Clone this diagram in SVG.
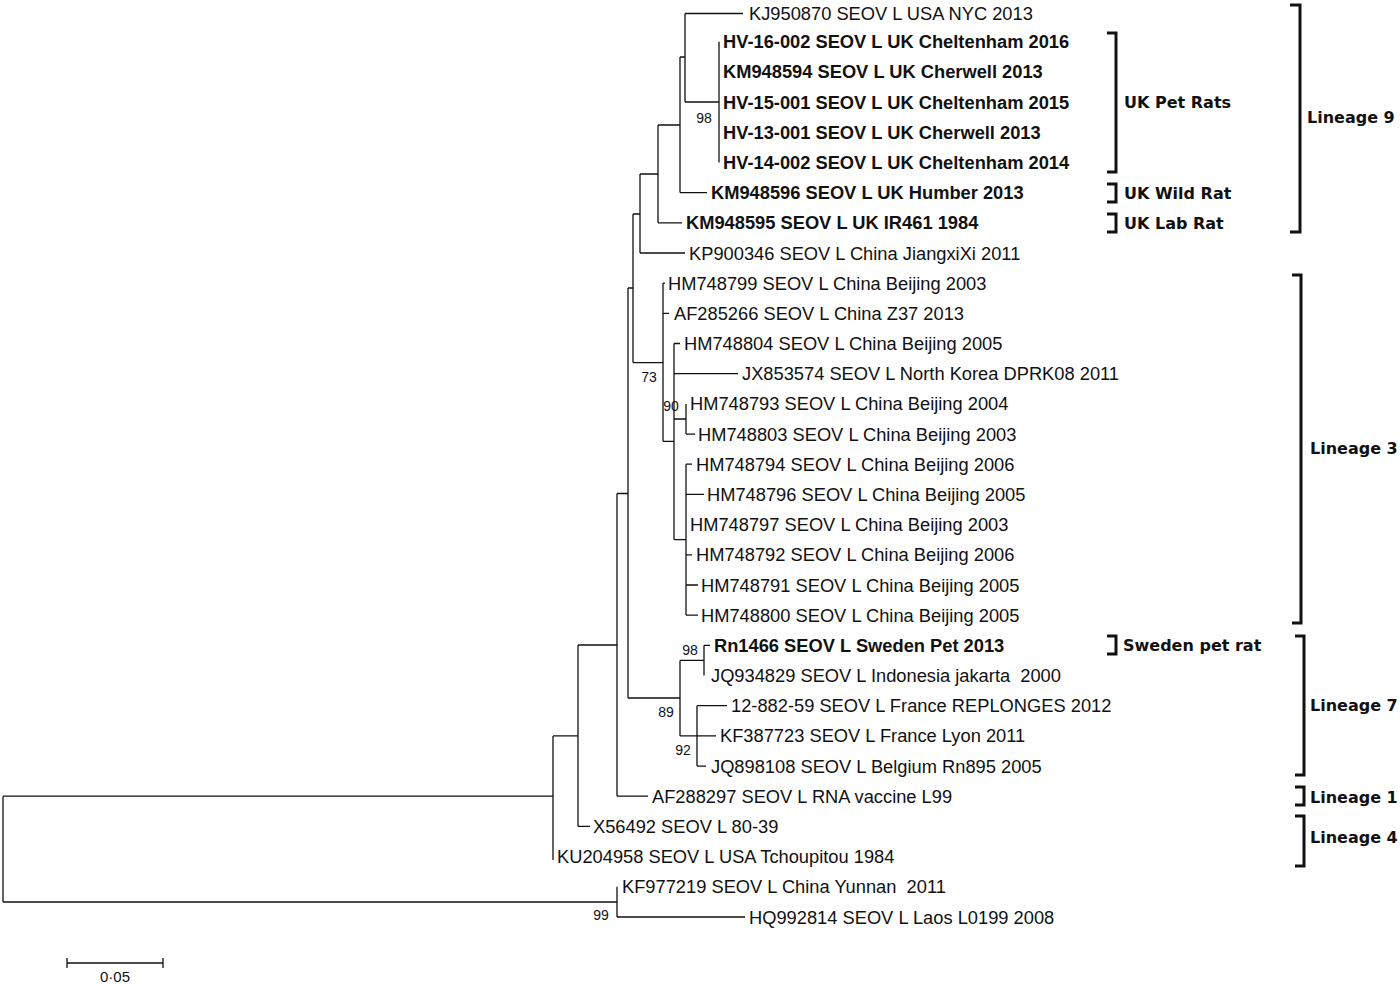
<svg xmlns="http://www.w3.org/2000/svg" width="1400" height="984" viewBox="0 0 1400 984">
<style>
.t{font-family:"Liberation Sans",Arial,sans-serif;font-size:18.3px;fill:#111}
.b{font-weight:bold}
.bs{font-family:"Liberation Sans",Arial,sans-serif;font-size:14px;fill:#111;text-anchor:middle}
.sc{font-size:15px}
.g{font-family:"DejaVu Sans",Verdana,sans-serif;font-weight:bold;font-size:16px;fill:#111}
.br{fill:none;stroke:#111;stroke-width:3}
.ln{fill:none;stroke:#111;stroke-width:1.3}
.pre{white-space:pre}
</style>
<rect width="1400" height="984" fill="#fff"/>
<g id="connectors" class="ln">
<path d="M3,796.2 V902 M3,796.2 H553 M3,902 H617"/>
<path d="M553,735.9 V860 M553,735.9 H578"/>
<path d="M578,645 V826.4 M578,826.4 H590 M578,645 H617"/>
<path d="M617,493.5 V796.2 M617,796.2 H648 M617,493.5 H628"/>
<path d="M628,288 V698 M628,288 H633 M628,698 H680"/>
<path d="M633,214 V362.6 M633,214 H640 M633,362.6 H663"/>
<path d="M640,174 V253 M640,174 H658 M640,253 H685"/>
<path d="M658,125 V222.8 M658,125 H680 M658,222.8 H682"/>
<path d="M680,57 V192.6 M680,57 H685 M680,192.6 H707"/>
<path d="M685,13.5 V102 M685,13.5 H743 M685,102 H719"/>
<path d="M719,41.7 V162.4"/>
<path d="M663,283.1 V441.3 M663,283.1 H665 M663,313.3 H669 M663,441.3 H674"/>
<path d="M674,343.5 V539.7 M674,343.5 H680 M674,373.7 H738 M674,419 H686 M674,539.7 H686"/>
<path d="M686,403.9 V434.1 M686,434.1 H695"/>
<path d="M686,464.2 V615.1 M686,464.2 H692 M686,494.4 H704 M686,554.8 H692 M686,585 H698 M686,615.1 H698"/>
<path d="M680,660.4 V735.9 M680,660.4 H704 M680,735.9 H697"/>
<path d="M704,645.3 V675.5 M704,645.3 H710"/>
<path d="M697,705.7 V766.1 M697,705.7 H727 M697,735.9 H716 M697,766.1 H706"/>
<path d="M617,886.8 V917 M617,917 H745"/>
</g>
<g id="bootstrap">
<text class="bs" x="704" y="123">98</text>
<text class="bs" x="649" y="382">73</text>
<text class="bs" x="671" y="411">90</text>
<text class="bs" x="690" y="655">98</text>
<text class="bs" x="666" y="717">89</text>
<text class="bs" x="683" y="755">92</text>
<text class="bs" x="601" y="920">99</text>
</g>
<g id="leaf-KJ950870"><text class="t" x="749" y="20">KJ950870 SEOV L USA NYC 2013</text></g>
<g id="leaf-HV-16-002"><text class="t b" x="723" y="48.2">HV-16-002 SEOV L UK Cheltenham 2016</text></g>
<g id="leaf-KM948594"><text class="t b" x="723" y="78.4">KM948594 SEOV L UK Cherwell 2013</text></g>
<g id="leaf-HV-15-001"><text class="t b" x="723" y="108.6">HV-15-001 SEOV L UK Cheltenham 2015</text></g>
<g id="leaf-HV-13-001"><text class="t b" x="723" y="138.7">HV-13-001 SEOV L UK Cherwell 2013</text></g>
<g id="leaf-HV-14-002"><text class="t b" x="723" y="168.9">HV-14-002 SEOV L UK Cheltenham 2014</text></g>
<g id="leaf-KM948596"><text class="t b" x="711" y="199.1">KM948596 SEOV L UK Humber 2013</text></g>
<g id="leaf-KM948595"><text class="t b" x="686" y="229.3">KM948595 SEOV L UK IR461 1984</text></g>
<g id="leaf-KP900346"><text class="t" x="689" y="259.5">KP900346 SEOV L China JiangxiXi 2011</text></g>
<g id="leaf-HM748799"><text class="t" x="668" y="289.6">HM748799 SEOV L China Beijing 2003</text></g>
<g id="leaf-AF285266"><text class="t" x="674" y="319.8">AF285266 SEOV L China Z37 2013</text></g>
<g id="leaf-HM748804"><text class="t" x="684" y="350">HM748804 SEOV L China Beijing 2005</text></g>
<g id="leaf-JX853574"><text class="t" x="742" y="380.2">JX853574 SEOV L North Korea DPRK08 2011</text></g>
<g id="leaf-HM748793"><text class="t" x="690" y="410.4">HM748793 SEOV L China Beijing 2004</text></g>
<g id="leaf-HM748803"><text class="t" x="698" y="440.6">HM748803 SEOV L China Beijing 2003</text></g>
<g id="leaf-HM748794"><text class="t" x="696" y="470.7">HM748794 SEOV L China Beijing 2006</text></g>
<g id="leaf-HM748796"><text class="t" x="707" y="500.9">HM748796 SEOV L China Beijing 2005</text></g>
<g id="leaf-HM748797"><text class="t" x="690" y="531.1">HM748797 SEOV L China Beijing 2003</text></g>
<g id="leaf-HM748792"><text class="t" x="696" y="561.3">HM748792 SEOV L China Beijing 2006</text></g>
<g id="leaf-HM748791"><text class="t" x="701" y="591.5">HM748791 SEOV L China Beijing 2005</text></g>
<g id="leaf-HM748800"><text class="t" x="701" y="621.6">HM748800 SEOV L China Beijing 2005</text></g>
<g id="leaf-Rn1466"><text class="t b" x="714" y="651.8">Rn1466 SEOV L Sweden Pet 2013</text></g>
<g id="leaf-JQ934829"><text class="t pre" x="711" y="682">JQ934829 SEOV L Indonesia jakarta  2000</text></g>
<g id="leaf-12-882-59"><text class="t" x="731" y="712.2">12-882-59 SEOV L France REPLONGES 2012</text></g>
<g id="leaf-KF387723"><text class="t" x="720" y="742.4">KF387723 SEOV L France Lyon 2011</text></g>
<g id="leaf-JQ898108"><text class="t" x="711" y="772.6">JQ898108 SEOV L Belgium Rn895 2005</text></g>
<g id="leaf-AF288297"><text class="t" x="652" y="802.7">AF288297 SEOV L RNA vaccine L99</text></g>
<g id="leaf-X56492"><text class="t" x="593" y="832.9">X56492 SEOV L 80-39</text></g>
<g id="leaf-KU204958"><text class="t" x="557" y="863.1">KU204958 SEOV L USA Tchoupitou 1984</text></g>
<g id="leaf-KF977219"><text class="t pre" x="622" y="893.3">KF977219 SEOV L China Yunnan  2011</text></g>
<g id="leaf-HQ992814"><text class="t" x="749" y="923.5">HQ992814 SEOV L Laos L0199 2008</text></g>
<g id="group-uk-pet-rats"><path class="br" d="M1107,33 H1116 V172 H1107"/><text class="g" x="1124" y="108">UK Pet Rats</text></g>
<g id="group-uk-wild-rat"><path class="br" d="M1107,184 H1116 V202 H1107"/><text class="g" x="1124" y="198.5">UK Wild Rat</text></g>
<g id="group-uk-lab-rat"><path class="br" d="M1107,214 H1116 V232 H1107"/><text class="g" x="1124" y="228.5">UK Lab Rat</text></g>
<g id="group-sweden"><path class="br" d="M1107,636 H1116 V654 H1107"/><text class="g" x="1123" y="651">Sweden pet rat</text></g>
<g id="lineage-9"><path class="br" d="M1290,5 H1300 V232 H1290"/><text class="g" x="1307" y="123">Lineage 9</text></g>
<g id="lineage-3"><path class="br" d="M1292,275 H1301 V623 H1292"/><text class="g" x="1310" y="454">Lineage 3</text></g>
<g id="lineage-7"><path class="br" d="M1295,636 H1304 V775 H1295"/><text class="g" x="1310" y="711">Lineage 7</text></g>
<g id="lineage-1"><path class="br" d="M1295,787 H1304 V805 H1295"/><text class="g" x="1310" y="803">Lineage 1</text></g>
<g id="lineage-4"><path class="br" d="M1295,816 H1304 V866 H1295"/><text class="g" x="1310" y="843">Lineage 4</text></g>
<g id="scale-bar"><path class="ln" d="M67,963 H163 M67,958 V968 M163,958 V968"/><text class="bs sc" x="115" y="982">0·05</text></g>
</svg>
